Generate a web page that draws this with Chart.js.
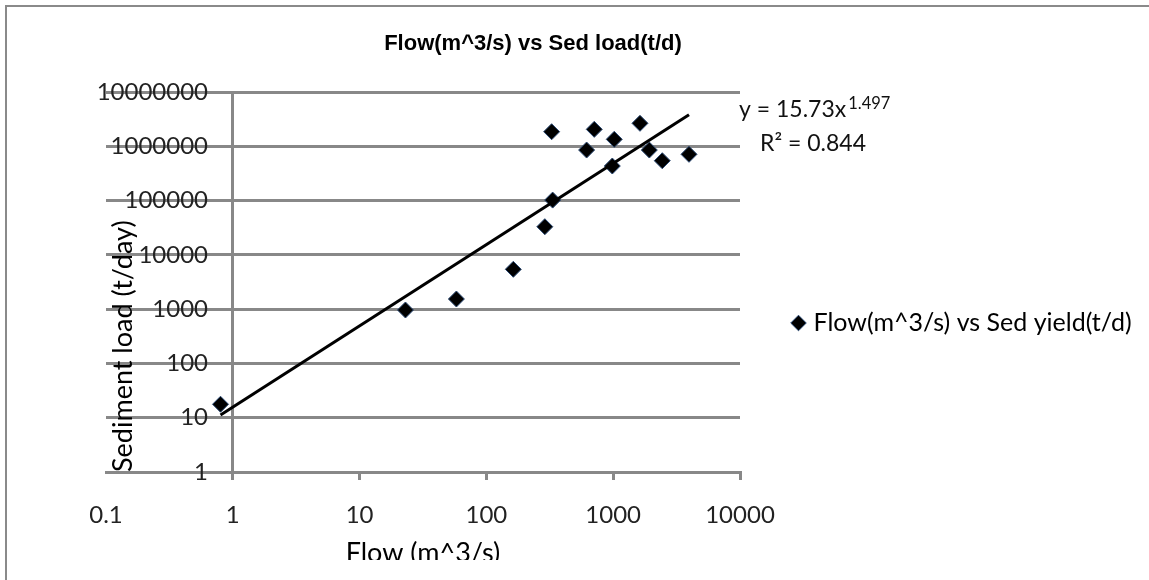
<!DOCTYPE html>
<html>
<head>
<meta charset="utf-8">
<title>Flow vs Sediment load</title>
<script src="https://cdn.jsdelivr.net/npm/chart.js"></script>
<style>
    body { margin: 0; background: #fff; overflow: hidden; }
    /* chart frame, only its top and left edges fall inside the window */
    #frame { position: absolute; left: 5px; top: 5px; width: 1400px; height: 800px; border: 2px solid #8a8a8a; }
    #wrap { position: absolute; left: 0; top: 0; width: 1149px; height: 560px; }
</style>
</head>
<body>
<div id="frame"></div>
<div id="wrap"><canvas id="plot"></canvas></div>
<script>
// flow (m^3/s) and sediment load (t/d) per sample
const flow    = [0.8, 23, 58, 163, 289, 327, 333, 617, 709, 984, 1019, 1626, 1927, 2438, 3962];
const sedLoad = [17.7, 964, 1537, 5420, 33000, 1855000, 102000, 853000, 2050000, 433000, 1343000, 2650000, 853000, 542000, 711000];

// power trendline y = a * x^b
const fitA = 15.73;
const fitB = 1.497;
const fitR2 = 0.844;

const xTicks = [0.1, 1, 10, 100, 1000, 10000];
const yTicks = [1, 10, 100, 1000, 10000, 100000, 1000000, 10000000];

const gray = '#888888';
const bodyFont = 'Lato, "Open Sans", sans-serif';
const tickSize = 24;

const points = flow.map((x, i) => ({ x: x, y: sedLoad[i] }));
const xLo = Math.min(...flow), xHi = Math.max(...flow);
const trend = [xLo, xHi].map(x => ({ x: x, y: fitA * Math.pow(x, fitB) }));

// y labels are right aligned at a fixed spot, so measure the widest one
const probe = document.createElement('canvas').getContext('2d');
probe.font = tickSize + 'px ' + bodyFont;
const widestY = probe.measureText(String(yTicks[yTicks.length - 1])).width;

// equation and R squared next to the end of the trendline
const fitLabel = {
    id: 'fitLabel',
    afterDraw(chart) {
        const ctx = chart.ctx;
        ctx.save();
        ctx.fillStyle = '#111';
        ctx.textBaseline = 'alphabetic';
        ctx.font = '23px ' + bodyFont;
        const main = 'y = ' + fitA + 'x';
        ctx.fillText(main, 739, 117);
        const w = ctx.measureText(main).width;
        ctx.font = '16.5px ' + bodyFont;
        ctx.fillText(String(fitB), 741 + w, 109);
        ctx.font = '23px ' + bodyFont;
        ctx.fillText('R² = ' + fitR2, 760, 151);
        ctx.restore();
    }
};

// legend sits a little below the middle and may run to the canvas edge
const moveLegend = {
    id: 'moveLegend',
    afterLayout(chart) {
        const lg = chart.legend;
        lg.top += 43;
        lg.bottom += 43;
        lg.right = chart.width;
        lg.width = lg.right - lg.left;
    }
};

new Chart(document.getElementById('plot'), {
    type: 'scatter',
    data: {
        datasets: [{
            label: 'trend',
            data: trend,
            showLine: true,
            borderColor: '#000',
            borderWidth: 3,
            pointRadius: 0,
            fill: false
        }, {
            label: 'Flow(m^3/s) vs Sed yield(t/d)',
            data: points,
            pointStyle: 'rectRot',
            pointRadius: 8,
            backgroundColor: '#000',
            borderColor: '#2b4a74',
            borderWidth: 1
        }]
    },
    options: {
        responsive: true,
        maintainAspectRatio: false,
        animation: false,
        events: [],
        layout: { padding: { left: 0, right: 83, top: 0, bottom: 0 } },
        plugins: {
            title: {
                display: true,
                text: 'Flow(m^3/s) vs Sed load(t/d)',
                color: '#000',
                font: { family: '"Liberation Sans Narrow", "Liberation Sans", Arial, sans-serif', size: 22, weight: 'bold' },
                padding: { top: 30.8, bottom: 34.8 }
            },
            legend: {
                position: 'right',
                maxWidth: 326,
                labels: {
                    usePointStyle: true,
                    boxWidth: 5,
                    boxHeight: 11,
                    padding: 56,
                    color: '#000',
                    font: { family: bodyFont, size: 25 },
                    filter: item => item.datasetIndex === 1
                }
            },
            tooltip: { enabled: false }
        },
        scales: {
            x: {
                type: 'logarithmic',
                min: 0.1,
                max: 10000,
                afterBuildTicks: s => { s.ticks = xTicks.map(v => ({ value: v })); },
                afterFit: s => { s.height = 88; },
                grid: {
                    color: c => c.tick && c.tick.value === 1 ? gray : 'rgba(0,0,0,0)',
                    tickColor: c => c.tick && c.tick.value === 0.1 ? 'rgba(0,0,0,0)' : gray,
                    lineWidth: 3,
                    tickLength: 8
                },
                border: { display: true, color: gray, width: 3 },
                ticks: {
                    autoSkip: false,
                    maxRotation: 0,
                    padding: 21,
                    color: '#222',
                    font: { family: bodyFont, size: tickSize },
                    callback: v => String(v)
                },
                title: {
                    display: true,
                    text: 'Flow (m^3/s)',
                    color: '#000',
                    font: { family: bodyFont, size: 27 },
                    padding: { top: 0, bottom: -9 }
                }
            },
            y: {
                type: 'logarithmic',
                min: 1,
                max: 10000000,
                afterBuildTicks: s => { s.ticks = yTicks.map(v => ({ value: v })); },
                afterFit: s => { s.width = 106; },
                grid: { color: gray, lineWidth: 3, drawTicks: false },
                border: { display: false },
                ticks: {
                    mirror: true,
                    crossAlign: 'far',
                    padding: 208 - 106 - widestY,
                    color: '#222',
                    font: { family: bodyFont, size: tickSize },
                    callback: v => String(v)
                },
                title: {
                    display: true,
                    text: 'Sediment load (t/day)',
                    align: 'start',
                    color: '#000',
                    font: { family: bodyFont, size: 27 },
                    padding: { top: 107, bottom: 0 }
                }
            }
        }
    },
    plugins: [fitLabel, moveLegend]
});
</script>
</body>
</html>
